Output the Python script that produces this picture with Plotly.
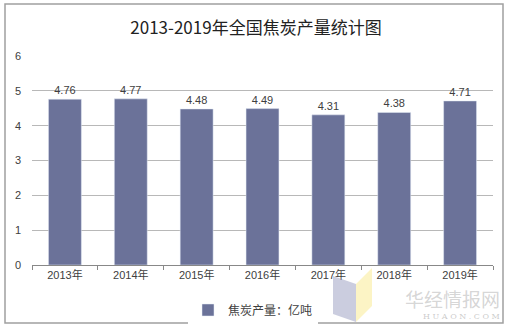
import plotly.graph_objects as go

years = ["2013年", "2014年", "2015年", "2016年", "2017年", "2018年", "2019年"]
output = [4.76, 4.77, 4.48, 4.49, 4.31, 4.38, 4.71]
series_name = "焦炭产量：亿吨"
title_text = "2013-2019年全国焦炭产量统计图"
y_ticks = [0, 1, 2, 3, 4, 5, 6]

W, H = 512, 331
M = dict(l=32, r=19, t=56, b=66)
PW, PH = W - M["l"] - M["r"], H - M["t"] - M["b"]


def px(x):
    """pixel column -> paper x"""
    return (x - M["l"]) / PW


def py(y):
    """pixel row -> paper y"""
    return (H - M["b"] - y) / PH


bar_color = "#6b7299"
text_color = "#404040"

fig = go.Figure()
fig.add_trace(go.Bar(
    x=years,
    y=output,
    name=series_name,
    marker=dict(color=bar_color),
    width=0.5,
    text=[f"{v:.2f}" for v in output],
    textposition="outside",
    textfont=dict(family="Liberation Sans, Arial, sans-serif", size=11, color=text_color),
    cliponaxis=False,
    showlegend=True,
))

fig.update_layout(
    width=W,
    height=H,
    margin=dict(**M, autoexpand=False),
    paper_bgcolor="white",
    plot_bgcolor="white",
    title=dict(
        text=title_text,
        x=0.5,
        xanchor="center",
        y=1 - 28 / H,
        yanchor="middle",
        font=dict(family="Noto Sans CJK SC, serif", size=17, color="#222222"),
    ),
    xaxis=dict(
        type="category",
        showline=True,
        linecolor="#888888",
        linewidth=1,
        ticks="outside",
        tickson="boundaries",
        ticklen=4,
        tickcolor="#888888",
        tickfont=dict(family="Liberation Sans, Noto Sans CJK SC, sans-serif", size=11, color=text_color),
        showgrid=False,
    ),
    yaxis=dict(
        range=[0, 6],
        tickvals=y_ticks,
        showgrid=True,
        gridcolor="#b8b8b8",
        gridwidth=1,
        zeroline=False,
        showline=False,
        ticks="",
        tickfont=dict(family="Liberation Sans, Arial, sans-serif", size=11, color=text_color),
        ticklabelstandoff=10,
    ),
    legend=dict(
        orientation="h",
        x=px(253),
        xanchor="center",
        y=py(310),
        yanchor="middle",
        font=dict(family="Noto Sans CJK SC, serif", size=12, color=text_color),
    ),
    bargap=0.5,
)

# outer frame around the whole chart
fig.add_shape(
    type="rect", xref="paper", yref="paper",
    x0=px(5), x1=px(503), y0=py(323), y1=py(4),
    line=dict(color="#a0a0a0", width=1.5),
    fillcolor="rgba(0,0,0,0)",
    layer="below",
)

# site watermark: folded logo and name
fig.add_shape(
    type="path", xref="paper", yref="paper",
    path=f"M {px(333)},{py(276)} L {px(356)},{py(284)} L {px(356)},{py(322)} L {px(333)},{py(314)} Z",
    fillcolor="rgba(140,145,185,0.45)", line=dict(width=0), layer="above",
)
fig.add_shape(
    type="path", xref="paper", yref="paper",
    path=f"M {px(356)},{py(284)} L {px(372)},{py(268)} L {px(372)},{py(306)} L {px(356)},{py(322)} Z",
    fillcolor="rgba(250,235,150,0.55)", line=dict(width=0), layer="above",
)
fig.add_annotation(
    text="华经情报网", xref="paper", yref="paper",
    x=px(502), y=py(298), xanchor="right", yanchor="middle", showarrow=False,
    font=dict(family="Noto Sans CJK SC, serif", size=19, color="rgba(150,150,150,0.4)"),
)
fig.add_annotation(
    text="H U A O N . C O M", xref="paper", yref="paper",
    x=px(502), y=py(316), xanchor="right", yanchor="middle", showarrow=False,
    font=dict(family="DejaVu Serif, serif", size=8, color="rgba(150,150,150,0.5)"),
)

fig.write_html("out.html")
